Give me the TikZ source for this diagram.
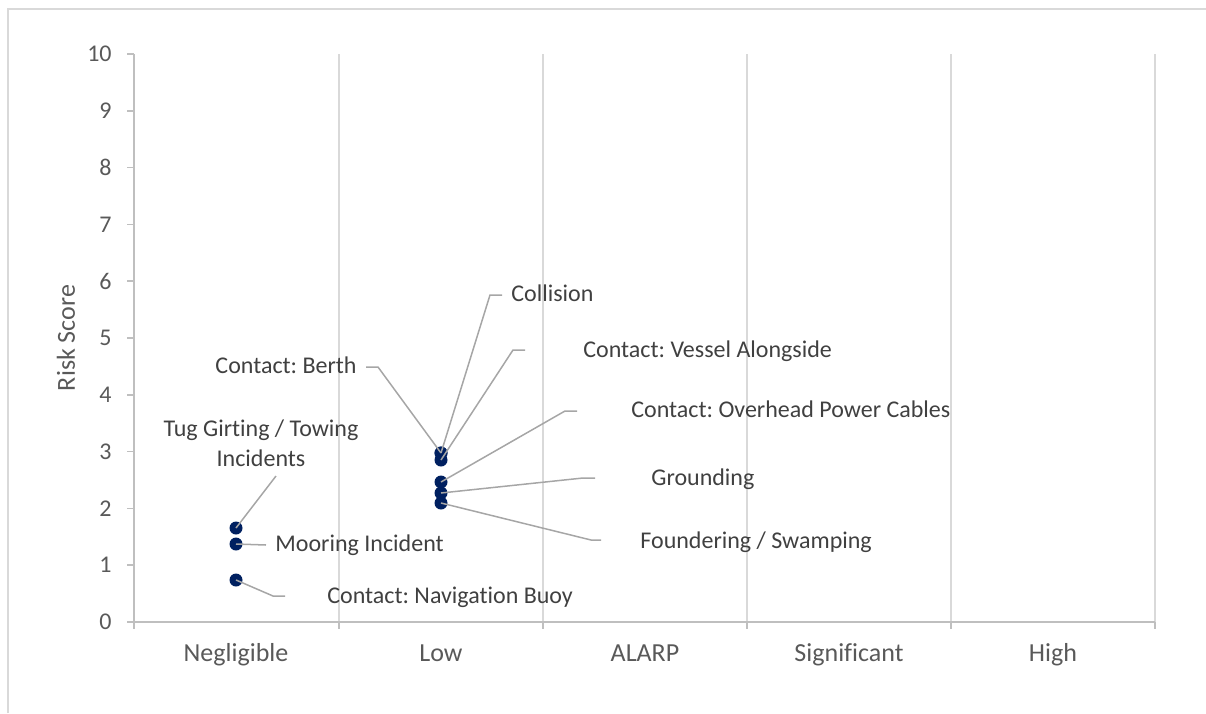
\documentclass[tikz,border=0pt]{standalone}
\usepackage{fontspec}
\setmainfont{Carlito}[Ligatures=NoCommon]
\usepackage{tikz}
\usetikzlibrary{positioning, calc}
\frenchspacing

\definecolor{ptblue}{HTML}{002060}
\definecolor{leadgray}{HTML}{A6A6A6}
\definecolor{gridgray}{HTML}{D9D9D9}
\definecolor{axisgray}{HTML}{BFBFBF}
\definecolor{ticktext}{HTML}{595959}
\definecolor{lbltext}{HTML}{404040}

\tikzset{
	pt/.style={circle, fill=ptblue, inner sep=0pt, minimum size=6.5pt},
	lead/.style={draw=leadgray, line width=0.75pt},
	lbl/.style={text=lbltext, font=\fontsize{12}{15}\selectfont, inner sep=0pt},
	onelbl/.style={lbl, text height=8.6pt, text depth=2.6pt},
	ticklbl/.style={text=ticktext, font=\fontsize{12}{14}\selectfont, inner sep=0pt},
	catlbl/.style={text=ticktext, font=\fontsize{13}{15}\selectfont, inner sep=0pt},
	gridline/.style={draw=gridgray, line width=0.75pt},
	axisline/.style={draw=axisgray, line width=0.75pt}
}

\begin{document}
\begin{tikzpicture}[x=0.5pt, y=-0.5pt]
	
	\useasboundingbox (0,0) rectangle (1206,713);
	
	%//chart frame
	\draw[draw=gridgray, line width=1pt] (8,713) -- (8,9) -- (1206,9);
	
	\foreach \x in {339,543,747,951,1155}
	\draw[gridline] (\x,54) -- (\x,622);
	
	\draw[axisline] (134,54) -- (134,622) -- (1155,622);
	\foreach \v in {0,...,10}
	\draw[axisline] (127,{622-56.8*\v}) -- (134,{622-56.8*\v});
	\foreach \x in {134,339,543,747,951,1155}
	\draw[axisline] (\x,622) -- (\x,629);
	
	\foreach \v in {0,...,10}
	\node [ticklbl, anchor=east] (tick\v) at (112,{622-56.8*\v}) {\v};
	
	\foreach \x/\val in {236/Negligible,441/Low,645/ALARP,849/Significant,1053/High}
	\node [catlbl, anchor=base] (cat-\val) at (\x,661) {\val};
	
	\node [catlbl, rotate=90] (ytitle) at (66,338) {Risk Score};
	
	%//points
	\node [pt] (tug) at (236,528) {};
	\node [pt] (moor) at (236,544) {};
	\node [pt] (buoy) at (236,580) {};
	\node [pt] (berth) at (441,453) {};
	\node [pt] (coll) at (441,453) {};
	\node [pt] (vess) at (441,460) {};
	\node [pt] (cable) at (441,482) {};
	\node [pt] (grnd) at (441,493) {};
	\node [pt] (fndr) at (441,503) {};
	
	%//labels
	\node [lbl, align=center] (tug-l) at (261,443) {Tug Girting / Towing\\Incidents};
	\node [onelbl, anchor=west] (moor-l) at (275,545) {Mooring Incident};
	\node [onelbl, anchor=west] (buoy-l) at (327,597) {Contact: Navigation Buoy};
	\node [onelbl, anchor=east] (berth-l) at (357,367) {Contact: Berth};
	\node [onelbl, anchor=west] (coll-l) at (511,295) {Collision};
	\node [onelbl, anchor=west] (vess-l) at (583,351) {Contact: Vessel Alongside};
	\node [onelbl, anchor=west] (cable-l) at (631,411) {Contact: Overhead Power Cables};
	\node [onelbl, anchor=west] (grnd-l) at (651,479) {Grounding};
	\node [onelbl, anchor=west] (fndr-l) at (640,542) {Foundering / Swamping};
	
	%//leader lines
	\coordinate (tug-a) at (276,476);
	\coordinate (moor-a) at (266,545);
	\coordinate (buoy-a) at (273,596);
	\coordinate (buoy-b) at (285,596);
	\coordinate (berth-a) at (378,367);
	\coordinate (berth-b) at (366,367);
	\coordinate (coll-a) at (490,295);
	\coordinate (coll-b) at (502,295);
	\coordinate (vess-a) at (513,350);
	\coordinate (vess-b) at (525,350);
	\coordinate (cable-a) at (565,411);
	\coordinate (cable-b) at (577,411);
	\coordinate (grnd-a) at (583,478);
	\coordinate (grnd-b) at (595,478);
	\coordinate (fndr-a) at (591,540);
	\coordinate (fndr-b) at (601,540);
	
	\draw[lead] (tug.center) -- (tug-a);
	\draw[lead] (moor.center) -- (moor-a);
	\foreach \n in {buoy,berth,coll,vess,cable,grnd,fndr}
	\draw[lead] (\n.center) -- (\n-a) -- (\n-b);
	
\end{tikzpicture}
\end{document}
